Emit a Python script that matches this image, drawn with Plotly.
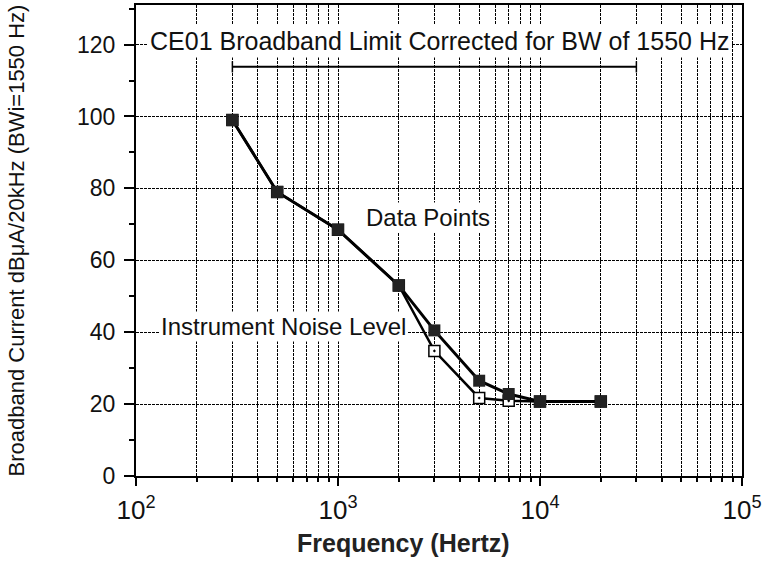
import plotly.graph_objects as go

freq = [300, 500, 1000, 2000, 3000, 5000, 7000, 10000, 20000]
data_points = [99, 79, 68.5, 53, 40.5, 26.5, 22.8, 20.7, 20.7]
noise_level = [99, 79, 68.5, 53, 34.8, 21.7, 20.9, 20.7, 20.7]
limit_freq = [300, 30000]
limit_level = [113.8, 113.8]
x_tickvals = [100, 1000, 10000, 100000]
x_ticktext = ["10<sup>2</sup>", "10<sup>3</sup>", "10<sup>4</sup>", "10<sup>5</sup>"]
y_tickvals = [0, 20, 40, 60, 80, 100, 120]

font = "Liberation Sans, Arial, sans-serif"
grid_dash = "3px,1px"

fig = go.Figure()
fig.add_trace(go.Scatter(x=limit_freq, y=limit_level, mode="lines+markers",
                         line=dict(color="black", width=2),
                         marker=dict(symbol="line-ns-open", size=8, color="black",
                                     line=dict(width=1.5, color="black")),
                         showlegend=False))
fig.add_trace(go.Scatter(x=freq, y=noise_level, mode="lines+markers",
                         line=dict(color="black", width=2.5),
                         marker=dict(symbol="square-dot", size=11, color="white",
                                     line=dict(color="black", width=1.5)),
                         showlegend=False))
fig.add_trace(go.Scatter(x=freq, y=data_points, mode="lines+markers",
                         line=dict(color="black", width=3),
                         marker=dict(symbol="square", size=12, color="#222"),
                         showlegend=False))

fig.add_annotation(x=3.445, y=72, xref="x", yref="y", text="Data Points",
                   showarrow=False, bgcolor="white", font=dict(size=24, color="#111", family=font))
fig.add_annotation(x=2.728, y=41.5, xref="x", yref="y", text="Instrument Noise Level",
                   showarrow=False, bgcolor="white", font=dict(size=24, color="#111", family=font))
fig.add_annotation(x=0.5, y=120.9, xref="paper", yref="y",
                   text="CE01 Broadband Limit Corrected for BW of 1550 Hz",
                   showarrow=False, bgcolor="white", borderpad=2,
                   font=dict(size=25, color="#111", family=font))
fig.add_annotation(x=0.4406, y=-0.142, xref="paper", yref="paper",
                   text="<b>Frequency (Hertz)</b>", showarrow=False,
                   xanchor="center", yanchor="middle",
                   font=dict(size=25, color="#222", family=font))

fig.update_xaxes(type="log", range=[2, 5], tickvals=x_tickvals, ticktext=x_ticktext,
                 ticks="outside", ticklen=8, tickwidth=2, tickcolor="black",
                 ticklabelstandoff=2,
                 showgrid=True, gridcolor="black", griddash=grid_dash, gridwidth=1.2,
                 minor=dict(dtick="D1", ticks="outside", ticklen=4, tickcolor="black", showgrid=True,
                            gridcolor="black", griddash=grid_dash, gridwidth=1.2),
                 showline=True, linecolor="black", linewidth=2, mirror=True,
                 zeroline=False, automargin=False,
                 tickfont=dict(size=26, color="#111", family=font))
fig.update_yaxes(range=[0, 131], tickvals=y_tickvals,
                 ticks="outside", ticklen=10, tickwidth=2, tickcolor="black",
                 ticklabelstandoff=4,
                 showgrid=True, gridcolor="black", griddash=grid_dash, gridwidth=1.2,
                 minor=dict(dtick=10, ticks="outside", ticklen=5, tickcolor="black", showgrid=False),
                 showline=True, linecolor="black", linewidth=2, mirror=True,
                 zeroline=False, automargin=False,
                 tickfont=dict(size=23, color="#111", family=font),
                 title=dict(text="Broadband Current dB\u03bcA/20kHz (BWi=1550 Hz)",
                            font=dict(size=22, color="#111", family=font), standoff=46))

fig.update_layout(width=768, height=567, paper_bgcolor="white", plot_bgcolor="white",
                  margin=dict(l=136, r=26, t=5, b=91))

fig.write_html("out.html", config={"displayModeBar": False},
               post_script="document.body.style.margin='0';")
